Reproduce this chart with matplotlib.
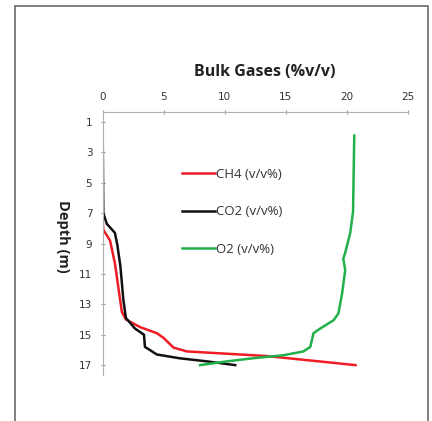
import matplotlib
matplotlib.use("Agg")
import matplotlib.pyplot as plt
from matplotlib.patches import Rectangle

# CO2 profile (v/v %) vs depth (m)
co2_depth = [1.9, 7.0, 7.7, 8.3, 9.1, 10.5, 12.7, 13.9, 14.6, 15.0, 15.8, 16.3, 16.55, 16.75, 17.0]
co2_val   = [0.0, 0.05, 0.33, 1.0, 1.2, 1.45, 1.69, 1.9, 2.65, 3.38, 3.46, 4.43, 6.3, 8.5, 10.85]

# CH4 profile
ch4_depth = [1.9, 7.5, 8.1, 8.8, 10.3, 12.0, 13.5, 14.0, 14.5, 14.9, 15.2, 15.85, 16.1, 16.4, 17.0]
ch4_val   = [0.0, 0.0, 0.05, 0.6, 1.0, 1.3, 1.57, 1.9, 3.06, 4.43, 4.97, 5.8, 6.9, 13.4, 20.7]

# O2 profile
o2_depth = [1.9, 6.9, 8.3, 9.6, 10.0, 10.75, 12.3, 13.6, 14.05, 14.6, 14.9, 15.8, 16.1, 16.35, 16.55, 16.75, 17.0]
o2_val   = [20.6, 20.5, 20.27, 19.86, 19.7, 19.86, 19.6, 19.3, 18.9, 17.8, 17.26, 17.0, 16.44, 14.8, 12.3, 10.2, 7.97]

x_ticks = [0, 5, 10, 15, 20, 25]
y_ticks = [1, 3, 5, 7, 9, 11, 13, 15, 17]

fig = plt.figure(figsize=(4.32, 4.21), dpi=100)
fig.patch.set_facecolor("white")
# outer chart frame
fig.add_artist(Rectangle((15/432, -0.05), (428-15)/432, 1.05 - 6/421,
                         transform=fig.transFigure, fill=False,
                         edgecolor="#6b6b6b", linewidth=1.2))

ax = fig.add_axes([102.7/432, 1 - 375/421, (408 - 102.7)/432, (375 - 112)/421])
ax.plot(ch4_val, ch4_depth, color="#ee1c25", lw=1.8, label="CH4 (v/v%)")
ax.plot(co2_val, co2_depth, color="#111111", lw=1.8, label="CO2 (v/v%)")
ax.plot(o2_val, o2_depth, color="#21b04b", lw=1.8, label="O2 (v/v%)")

ax.set_xlim(0, 25)
ax.set_ylim(17.65, 0.35)
ax.xaxis.tick_top()
ax.set_xticks(x_ticks)
ax.set_yticks(y_ticks)
ax.tick_params(axis="both", labelsize=7.5, colors="#9a9a9a", labelcolor="#333333",
               length=3, width=0.8, direction="inout", pad=6)
for s in ["right", "bottom"]:
    ax.spines[s].set_visible(False)
for s in ["top", "left"]:
    ax.spines[s].set_color("#b0b0b0")
    ax.spines[s].set_linewidth(0.8)

fig.text(265/432, 1 - 72/421, "Bulk Gases (%v/v)", ha="center", va="center",
         fontsize=11.5, fontweight="bold", color="#222222", family="Open Sans")
fig.text(63/432, 1 - 236/421, "Depth (m)", ha="center", va="center", rotation=-90,
         fontsize=10.5, fontweight="bold", color="#222222", family="Open Sans")

leg = ax.legend(loc="upper left", bbox_to_anchor=((170 - 102.7)/305.3, (375 - 156)/263),
                frameon=False, handlelength=2.5, handletextpad=0.1,
                labelspacing=1.85, prop={"family": "Open Sans", "size": 9.5})
for t in leg.get_texts():
    t.set_color("#333333")

fig.savefig("out.png", dpi=100)
